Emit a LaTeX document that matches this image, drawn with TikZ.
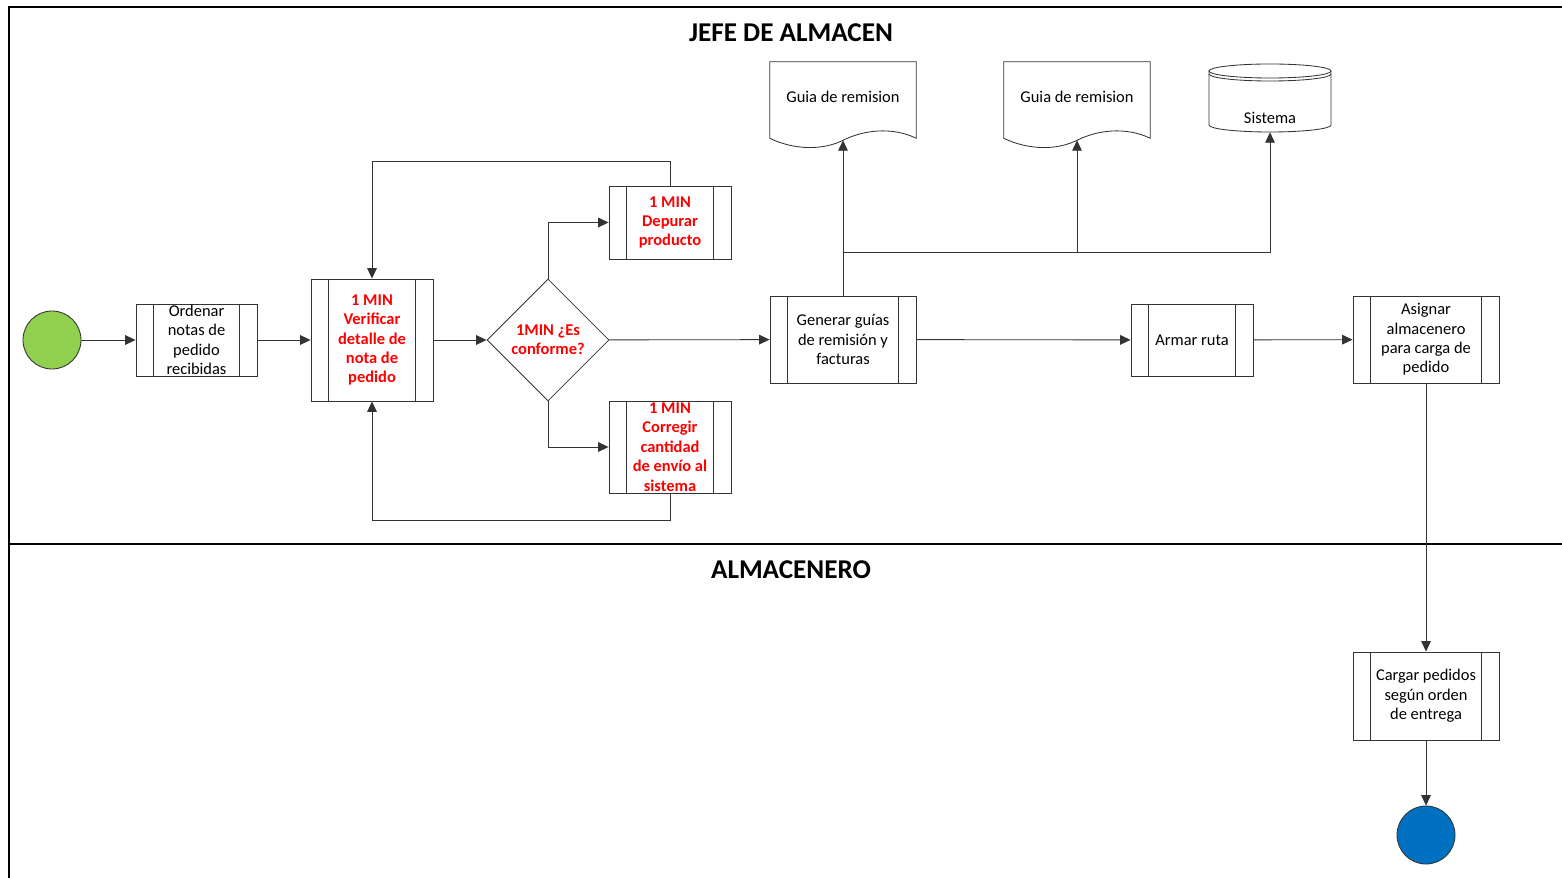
\documentclass[tikz,border=0pt]{standalone}
\usepackage{fontspec}
\setmainfont{Carlito}
\usepackage{tikz}
\usetikzlibrary{arrows.meta, shapes.geometric}
\definecolor{ini}{HTML}{92D050}
\definecolor{fin}{HTML}{0070C0}
\definecolor{alerta}{HTML}{FF0000}
\definecolor{ink}{HTML}{000000}
\definecolor{bd}{HTML}{333333}
\tikzset{
  shp/.style={draw=bd, line width=0.6pt},
  proc/.style={rectangle, shp, align=center, inner sep=0pt, text=ink,
               font=\fontsize{11.7}{13.8}\selectfont,
               path picture={
                 \draw[bd, line width=0.6pt]
                   ([xshift=0.43cm]path picture bounding box.north west) --
                   ([xshift=0.43cm]path picture bounding box.south west);
                 \draw[bd, line width=0.6pt]
                   ([xshift=-0.43cm]path picture bounding box.north east) --
                   ([xshift=-0.43cm]path picture bounding box.south east);}},
  hot/.style={text=alerta, font=\fontsize{11.7}{13.8}\selectfont\bfseries},
  decide/.style={diamond, shp, aspect=1, inner sep=0pt, align=center,
                 minimum width=3.05cm, minimum height=3.05cm},
  doc/.style={rectangle, inner sep=0pt, minimum width=3.65cm,
              minimum height=1.95cm, font=\fontsize{11.7}{13.8}\selectfont},
  event/.style={circle, shp, minimum size=1.45cm, inner sep=0pt},
  lane/.style={font=\fontsize{19.3}{22}\selectfont\bfseries},
  arr/.style={-{Triangle[length=0.26cm, width=0.24cm]}, draw=bd, line width=0.6pt},
}
\newcommand{\docshape}[1]{%
  \draw[shp] ([yshift=0.05cm]#1.south west) -- (#1.north west) -- (#1.north east)
    -- ([yshift=0.05cm]#1.south east)
    .. controls +(-25,-12) and +(20,-10) .. (#1.south)
    .. controls +(-20,10) and +(25,12) .. ([yshift=0.05cm]#1.south west);}
\newcommand{\shifted}[2]{\raisebox{#1}[0pt][0pt]{#2}}

\begin{document}
\begin{tikzpicture}[x=0.025cm, y=-0.025cm]
  \useasboundingbox (0,0) rectangle (1562,878);

  % lanes
  \draw[black, line width=1pt] (1562,7) -| (9,878);
  \draw[black, line width=1pt] (9,544) -- (1562,544);
  \node[lane] (jefe) at (791,33) {JEFE DE ALMACEN};
  \node[lane] (alm) at (791,570) {ALMACENERO};

  % jefe de almacen
  \node[event, fill=ini] (start) at (52,340) {};
  \node[proc, minimum width=3.025cm, minimum height=1.8cm] (ordenar) at (196.5,340)
    {Ordenar\\notas de\\pedido\\recibidas};
  \node[proc, hot, minimum width=3.05cm, minimum height=3.05cm] (verif) at (372,340)
    {1 MIN\\Verificar\\detalle de\\nota de\\pedido};
  \node[decide, hot] (conf) at (548,340) {1MIN ¿Es\\conforme?};
  \node[proc, hot, minimum width=3.05cm, minimum height=1.825cm] (depurar) at (670,222.5)
    {1 MIN\\Depurar\\producto};
  \node[proc, hot, minimum width=3.05cm, minimum height=2.3cm] (corregir) at (670,447)
    {1 MIN\\Corregir\\cantidad\\de envío al\\sistema};
  \node[proc, minimum width=3.65cm, minimum height=2.175cm] (generar) at (843,339.5)
    {Generar guías\\de remisión y\\facturas};
  \node[proc, minimum width=3.05cm, minimum height=1.8cm] (armar) at (1192,340)
    {Armar ruta};
  \node[proc, minimum width=3.65cm, minimum height=2.175cm] (asignar) at (1426,339.5)
    {Asignar\\almacenero\\para carga de\\pedido};

  \node[doc] (guia1) at (843,101) {\shifted{-0.03cm}{Guia de remision}};
  \node[doc] (guia2) at (1077,101) {\shifted{-0.03cm}{Guia de remision}};
  \docshape{guia1}
  \docshape{guia2}

  \node[rectangle, inner sep=0pt, minimum width=3.05cm, minimum height=1.7cm,
        font=\fontsize{11.7}{13.8}\selectfont] (sistema) at (1270,98)
    {\shifted{-0.63cm}{Sistema}};
  \draw[shp] (1209,71) -- (1209,125) arc[start angle=180, end angle=360,
    x radius=1.525cm, y radius=0.175cm] -- (1331,71);
  \draw[shp] (1270,71) ellipse [x radius=1.525cm, y radius=0.175cm];
  \draw[shp] (1209,74) arc[start angle=180, end angle=360,
    x radius=1.525cm, y radius=0.175cm];

  % almacenero
  \node[proc, minimum width=3.65cm, minimum height=2.2cm] (cargar) at (1426,696)
    {Cargar pedidos\\según orden\\de entrega};
  \node[event, fill=fin] (fin) at (1426,835) {};

  % flujo
  \draw[arr] (start) -- (ordenar);
  \draw[arr] (ordenar) -- (verif);
  \draw[arr] (verif) -- (conf);
  \draw[arr] (conf.north) |- (depurar);
  \draw[arr] (conf.south) |- (corregir);
  \draw[arr] (depurar.north) -- ++(0,-24) -| (verif.north);
  \draw[arr] (corregir.south) -- ++(0,27) -| (verif.south);
  \draw[arr] (conf) -- (generar);
  \draw[arr] (generar) -- (armar);
  \draw[arr] (armar) -- (asignar);
  \draw[arr] (asignar) -- (cargar);
  \draw[arr] (cargar) -- (fin);

  \coordinate (jn) at (843,252);
  \draw[arr] (generar.north) -- (guia1.south);
  \draw[arr] (jn) -| (guia2.south);
  \draw[arr] (jn) -| (sistema.south);
\end{tikzpicture}
\end{document}
